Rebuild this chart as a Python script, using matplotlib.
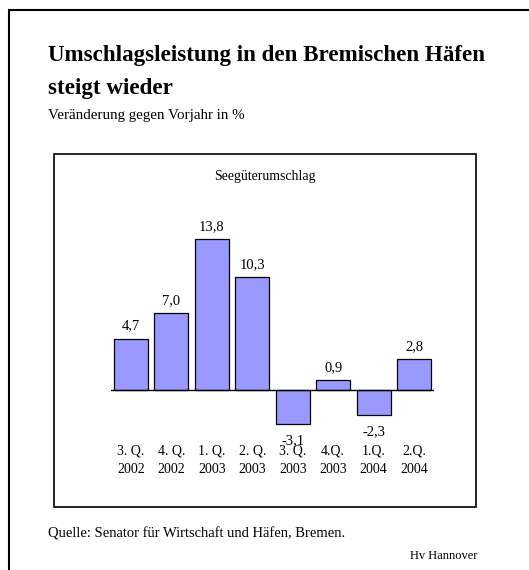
import matplotlib
matplotlib.use("Agg")
import matplotlib.pyplot as plt
from matplotlib.patches import Rectangle

plt.rcParams['font.family'] = ['Liberation Serif', 'DejaVu Serif']

# data
quarters = ["3. Q.\n2002", "4. Q.\n2002", "1. Q.\n2003", "2. Q.\n2003",
            "3. Q.\n2003", "4.Q.\n2003", "1.Q.\n2004", "2.Q.\n2004"]
values = [4.7, 7.0, 13.8, 10.3, -3.1, 0.9, -2.3, 2.8]
labels = ["4,7", "7,0", "13,8", "10,3", "-3,1", "0,9", "-2,3", "2,8"]

W, H = 529, 570
fig = plt.figure(figsize=(W / 100, H / 100), dpi=100)

# background layer in pixel coords for frames and texts
bg = fig.add_axes([0, 0, 1, 1])
bg.set_xlim(0, W)
bg.set_ylim(H, 0)
bg.axis('off')

bg.plot([8, W], [10.3, 10.3], color='black', lw=1.5, solid_capstyle='butt')
bg.plot([9, 9], [9.5, H], color='black', lw=1.5, solid_capstyle='butt')
bg.add_patch(Rectangle((54, 154), 422, 353, fill=False, ec='black', lw=1.2))

bg.text(48, 61, "Umschlagsleistung in den Bremischen Häfen", fontsize=16.6,
        fontweight='bold', va='baseline')
bg.text(48, 94, "steigt wieder", fontsize=16.6, fontweight='bold', va='baseline')
bg.text(48, 119, "Veränderung gegen Vorjahr in %", fontsize=10.8, va='baseline')
bg.text(265, 180, "Seegüterumschlag", fontsize=10, ha='center', va='baseline')
bg.text(48, 537, "Quelle: Senator für Wirtschaft und Häfen, Bremen.", fontsize=10.5,
        va='baseline')
bg.text(477, 559, "Hv Hannover", fontsize=9, ha='right', va='baseline')

# bar chart
ax = fig.add_axes([110.8 / W, (H - 477.5) / H, 323.4 / W, 262.6 / H])
ax.axis('off')
x = range(len(values))
ax.bar(x, values, width=0.84, color='#9999ff', edgecolor='black', lw=0.9, zorder=2)
ax.axhline(0, color='black', lw=1, zorder=3)
ax.set_xlim(-0.5, 7.5)
ax.set_ylim(-8, 16)

for i, (v, lab) in enumerate(zip(values, labels)):
    off = 9 if v >= 0 else -20
    ax.annotate(lab, (i, v), xytext=(0, off), textcoords='offset pixels',
                ha='center', va='baseline', fontsize=10.5)
    ax.text(i, -7.6, quarters[i], ha='center', va='baseline', fontsize=10,
            linespacing=1.55)

fig.savefig("out.png", dpi=100)
